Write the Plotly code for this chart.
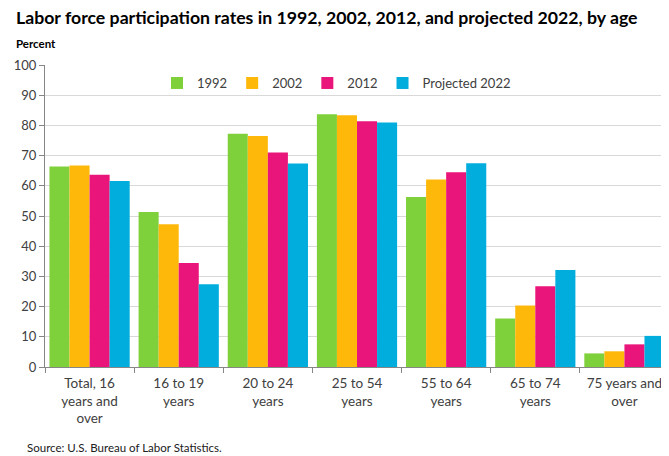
import plotly.graph_objects as go

categories = ["Total, 16<br>years and<br>over", "16 to 19<br>years", "20 to 24<br>years",
              "25 to 54<br>years", "55 to 64<br>years", "65 to 74<br>years", "75 years and<br>over"]
series_names = ["1992", "2002", "2012", "Projected 2022"]
v1992 = [66.4, 51.3, 77.2, 83.7, 56.3, 16.1, 4.5]
v2002 = [66.7, 47.3, 76.5, 83.4, 62.1, 20.4, 5.2]
v2012 = [63.7, 34.4, 71.0, 81.4, 64.5, 26.7, 7.5]
v2022 = [61.6, 27.4, 67.4, 81.0, 67.5, 32.1, 10.3]
colors = ["#7FD13B", "#FEB80A", "#EA157A", "#00ADDC"]
y_ticks = list(range(0, 101, 10))

font_family = "Lato, 'Open Sans', sans-serif"

fig = go.Figure()
for name, vals, col in zip(series_names, [v1992, v2002, v2012, v2022], colors):
    fig.add_trace(go.Bar(x=categories, y=vals, name=name, marker_color=col,
                         marker_line_width=0))

# page has an 8px body margin, so the figure is 8px smaller and offset
fig.update_layout(
    width=661, height=448,
    margin=dict(l=37, r=0, t=57, b=89),
    paper_bgcolor="white", plot_bgcolor="white",
    barmode="group", bargap=0.1, bargroupgap=0,
    font=dict(family=font_family, size=13, color="#404040"),
    showlegend=True,
    legend=dict(orientation="h", x=(157 - 45) / 624, y=0.99, xanchor="left", yanchor="top",
                bgcolor="rgba(0,0,0,0)", font=dict(size=13, color="#404040"),
                itemwidth=30, traceorder="normal"),
    xaxis=dict(type="category", showline=True, linecolor="#868686", linewidth=1,
               ticks="outside", tickson="boundaries", ticklen=5, tickcolor="#868686",
               tickfont=dict(size=13.5, color="#404040"), showgrid=False,
               ticklabelstandoff=4),
    yaxis=dict(range=[0, 100], tickvals=y_ticks, showline=True, linecolor="#868686",
               linewidth=1, ticks="outside", ticklen=5, tickcolor="#868686",
               gridcolor="#D9D9D9", gridwidth=1, zeroline=False,
               tickfont=dict(size=13, color="#404040")),
    annotations=[
        dict(text="<b>Labor force participation rates in 1992, 2002, 2012, and projected 2022, by age</b>",
             xref="paper", yref="paper", x=-31/624, y=1 + 48/302, xanchor="left", yanchor="middle",
             showarrow=False, font=dict(size=17.7, color="#000000")),
        dict(text="<b>Percent</b>",
             xref="paper", yref="paper", x=-31/624, y=1 + 21/302, xanchor="left", yanchor="middle",
             showarrow=False, font=dict(size=11.5, color="#000000")),
        dict(text="Source: U.S. Bureau of Labor Statistics.",
             xref="paper", yref="paper", x=-20/624, y=-80/302, xanchor="left", yanchor="middle",
             showarrow=False, font=dict(size=11.5, color="#202020")),
    ],
)

fig.write_html("out.html")
